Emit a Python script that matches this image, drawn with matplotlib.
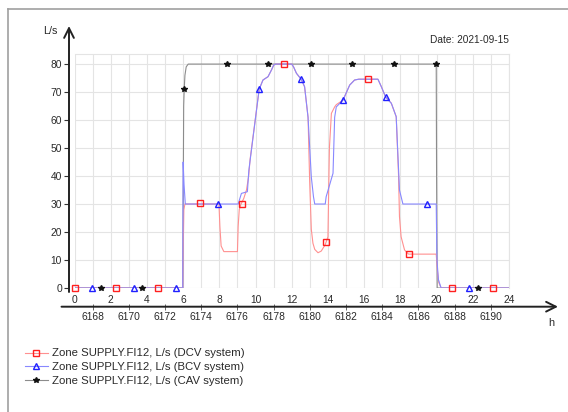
"""Zone supply airflow, DCV vs BCV vs CAV."""

import matplotlib

matplotlib.use("Agg")
import matplotlib.pyplot as plt
from matplotlib.lines import Line2D

plt.rcParams["font.family"] = ["Liberation Sans", "DejaVu Sans"]

# curves (hour, L/s)
dcv_h = [0, 5.98, 6.0, 6.04, 6.1, 7.98, 8.03, 8.1, 8.25, 9.0, 9.04, 9.1, 9.2, 9.35, 9.5,
         9.62, 9.7, 10.2, 10.41, 10.69, 10.88, 11.0, 11.1, 12.0, 12.1, 12.26, 12.53, 12.71,
         12.9, 12.99, 13.08, 13.17, 13.27, 13.45, 13.63, 13.85, 14.0, 14.04, 14.08, 14.19,
         14.37, 14.46, 14.83, 15.2, 15.47, 15.7, 16.76, 16.95, 17.18, 17.5, 17.77, 17.9,
         17.95, 18.04, 18.23, 18.45, 19.98, 20.05, 20.12, 20.25, 24]
dcv_v = [0, 0, 12, 28, 30, 30, 22, 15, 13, 13, 22, 28, 30, 32, 35,
         40, 46, 71, 74.3, 75.5, 77.9, 79.6, 80, 80, 79, 76.7, 74.5, 71.9,
         61, 38, 21, 16, 13.8, 12.6, 13.2, 15.5, 18.3, 35, 50, 62.4,
         64.7, 65.5, 67.1, 72.5, 74.3, 74.6, 74.6, 71.9, 68.3, 66, 61.2, 40,
         25.5, 18.3, 13.6, 12.1, 12.1, 6, 2, 0, 0]

bcv_h = [0, 5.98, 6.0, 6.05, 6.12, 9.04, 9.22, 9.55, 9.63, 10.2, 10.41, 10.69, 10.88, 11.0,
         11.1, 12.0, 12.1, 12.26, 12.53, 12.71, 12.9, 13.08, 13.2, 13.27, 13.85, 13.9, 14.28,
         14.37, 14.46, 14.83, 15.2, 15.47, 15.7, 16.76, 16.95, 17.18, 17.5, 17.77, 17.95,
         18.14, 19.98, 20.02, 20.1, 20.25, 24]
bcv_v = [0, 0, 45, 37, 30, 30, 33.8, 34.4, 42, 71, 74.3, 75.5, 77.9, 79.6,
         80, 80, 79, 76.7, 74.5, 71.9, 61, 39.7, 32.6, 30, 30, 32.6, 41,
         61, 64.7, 67.1, 72.5, 74.3, 74.6, 74.6, 71.9, 68.3, 66, 61.2, 35,
         30, 30, 10, 3, 0, 0]

cav_h = [0, 5.98, 6.03, 6.06, 6.1, 6.17, 6.28, 19.98, 20.0, 20.03, 24]
cav_v = [0, 0, 65, 71, 76, 79, 80, 80, 40, 0, 0]

# marker positions
dcv_mark_h = [0, 2.31, 4.62, 6.94, 9.26, 11.57, 13.91, 16.2, 18.5, 20.84, 23.14]
dcv_mark_v = [0, 0, 0, 30.3, 30, 80, 16.3, 74.6, 12.1, 0, 0]
bcv_mark_h = [0.98, 3.28, 5.6, 7.93, 10.19, 12.53, 14.83, 17.18, 19.48, 21.78]
bcv_mark_v = [0, 0, 0, 30, 71, 74.5, 67.1, 68.3, 30, 0]
cav_mark_h = [1.44, 3.74, 6.06, 8.43, 10.69, 13.04, 15.32, 17.64, 19.98, 22.31]
cav_mark_v = [0, 0, 71, 80, 80, 80, 80, 80, 80, 0]

hour_ticks = list(range(0, 25, 2))
year_hour_ticks = list(range(6168, 6191, 2))
year_hour_offset = 6167

labels = [
    "Zone SUPPLY.FI12, L/s (DCV system)",
    "Zone SUPPLY.FI12, L/s (BCV system)",
    "Zone SUPPLY.FI12, L/s (CAV system)",
]

W, H = 568, 412
txt = "#2a2a2a"
red_line, red_mark = "#ff9090", "#ff2020"
blue_line, blue_mark = "#8888ff", "#2020ff"
grey_line, star = "#8c8c8c", "#111111"

fig = plt.figure(figsize=(W / 100, H / 100), dpi=100)
ax = fig.add_axes([74.5 / W, 1 - 288 / H, (509 - 74.5) / W, (288 - 54) / H])

ax.plot(dcv_h, dcv_v, color=red_line, lw=0.8, zorder=3)
ax.plot(bcv_h, bcv_v, color=blue_line, lw=0.8, zorder=3)
ax.plot(cav_h, cav_v, color=grey_line, lw=0.8, zorder=2)
ms = dict(ls="none", mew=1.0, clip_on=False, zorder=4)
ax.plot(dcv_mark_h, dcv_mark_v, marker="s", ms=4.5, mfc="none", mec=red_mark, **ms)
ax.plot(bcv_mark_h, bcv_mark_v, marker="^", ms=4.5, mfc="none", mec=blue_mark, **ms)
ax.plot(cav_mark_h, cav_mark_v, marker="*", ms=4.3, mfc=star, mec=star, **ms)

ax.set_xlim(0, 24)
ax.set_ylim(0, 83.6)
ax.set_xticks(range(25))
ax.set_yticks(range(0, 81, 10))
ax.grid(True, color="#e4e4e4", lw=0.8, zorder=0)
ax.tick_params(axis="x", length=0, labelbottom=False)
ax.tick_params(axis="y", length=3.5, width=0.8, color="#333333", pad=1.5,
               labelsize=7.4, labelcolor=txt)
ax.spines["left"].set_position(("outward", 4))
ax.spines["left"].set_visible(False)
ax.spines["bottom"].set_visible(False)
for s in ("top", "right"):
    ax.spines[s].set_color("#e4e4e4")
    ax.spines[s].set_linewidth(0.8)

# y axis with arrow
ax.annotate("", xy=(-5.5, 262), xycoords="axes pixels", xytext=(-5.5, -4),
            textcoords="axes pixels", annotation_clip=False,
            arrowprops=dict(arrowstyle="->,head_length=0.7,head_width=0.35", lw=1.4,
                            color="#222222", shrinkA=0, shrinkB=0))
ax.annotate("L/s", xy=(-24.5, 257), xycoords="axes pixels", ha="center", va="center",
            fontsize=7.8, color=txt, annotation_clip=False)
ax.text(1.0, (288 - 40) / 234, "Date: 2021-09-15", transform=ax.transAxes,
        ha="right", va="center", fontsize=7.3, color=txt)

# x axis with arrow, hours above and hour-of-year below
axb = fig.add_axes([74.5 / W, 1 - 306.7 / H, (509 - 74.5) / W, 0.0001])
axb.set_xlim(0, 24)
axb.set_yticks([])
for s in axb.spines.values():
    s.set_visible(False)
axb.patch.set_alpha(0)
axb.set_xticks(hour_ticks)
axb.tick_params(axis="x", bottom=False, labelbottom=False, top=True, labeltop=True,
                length=0, pad=1.5, labelsize=7.4, labelcolor=txt)
sec = axb.secondary_xaxis("bottom", functions=(lambda h: h + year_hour_offset,
                                               lambda v: v - year_hour_offset))
sec.set_xticks(year_hour_ticks)
sec.tick_params(direction="inout", length=4, width=0.7, color="#666666", pad=1.5,
                labelsize=7.4, labelcolor=txt)
sec.spines["bottom"].set_visible(False)
axb.annotate("", xy=(483.5, 0), xycoords="axes pixels", xytext=(-13, 0),
             textcoords="axes pixels", annotation_clip=False,
             arrowprops=dict(arrowstyle="->,head_length=0.7,head_width=0.35", lw=1.4,
                             color="#222222", shrinkA=0, shrinkB=0))
fig.text(551.7 / W, 1 - 323 / H, "h", ha="center", va="center", fontsize=7.8, color=txt)

handles = [
    Line2D([], [], color=red_line, lw=0.8, marker="s", ms=4.5, mfc="none", mec=red_mark),
    Line2D([], [], color=blue_line, lw=0.8, marker="^", ms=4.5, mfc="none", mec=blue_mark),
    Line2D([], [], color=grey_line, lw=0.8, marker="*", ms=4.3, mfc=star, mec=star),
]
fig.legend(handles, labels, loc="upper left", bbox_to_anchor=(25 / W, 1 - 348.5 / H),
           frameon=False, fontsize=8.2, handlelength=2.0, handletextpad=0.35,
           labelspacing=0.33, borderpad=0, borderaxespad=0, labelcolor=txt)

# page frame
fig.add_artist(Line2D([8 / W, 1], [1 - 9 / H, 1 - 9 / H], color="#a0a0a0", lw=1.2))
fig.add_artist(Line2D([8 / W, 8 / W], [1 - 9 / H, 0], color="#a0a0a0", lw=1.2))

fig.savefig("out.png", dpi=100)
plt.close(fig)
